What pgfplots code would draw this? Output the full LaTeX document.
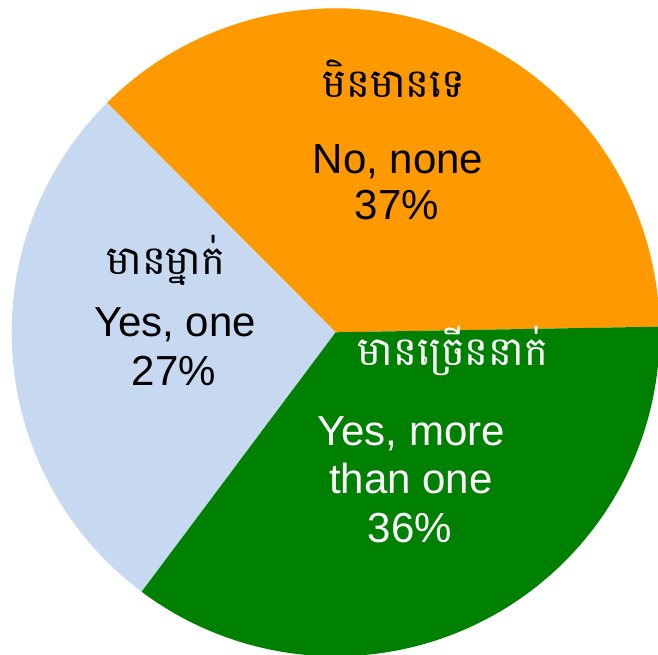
\documentclass[border=0pt]{standalone}
\usepackage{pgfplots}
\pgfplotsset{compat=1.18}
\usepackage{pgfplotstable}
\usepackage{fontspec}
\setmainfont{Liberation Sans}
\newfontfamily\khmerfont[Script=Khmer]{Battambang}
\definecolor{pieorange}{RGB}{255,153,0}
\definecolor{pieblue}{RGB}{198,217,240}
\definecolor{piegreen}{RGB}{0,128,0}

\pgfplotstableread{
share
37.2
27.3
35.5
}\piedata
\pgfplotstablegetelem{0}{share}\of\piedata \let\sA\pgfplotsretval
\pgfplotstablegetelem{1}{share}\of\piedata \let\sB\pgfplotsretval
\pgfplotstablegetelem{2}{share}\of\piedata \let\sC\pgfplotsretval
\pgfmathsetmacro\aZero{1.0}
\pgfmathsetmacro\aOne{\aZero+3.6*\sA}
\pgfmathsetmacro\aTwo{\aOne+3.6*\sB}
\pgfmathsetmacro\aThree{\aTwo+3.6*\sC}
\def\cx{335.7}
\def\cy{321.7}
\def\rr{324}

\begin{document}
\begin{tikzpicture}
\useasboundingbox (0,0) rectangle (658pt,654pt);
\begin{axis}[hide axis, x=1pt, y=1pt, xmin=0, xmax=658, ymin=0, ymax=654, clip=true,
  axis line style={draw=none}]
\addplot[fill=pieorange, draw=none, domain=\aZero:\aOne, samples=150] ({\cx+\rr*cos(x)},{\cy+\rr*sin(x)}) -- (axis cs:\cx,\cy) -- cycle;
\addplot[fill=pieblue, draw=none, domain=\aOne:\aTwo, samples=150] ({\cx+\rr*cos(x)},{\cy+\rr*sin(x)}) -- (axis cs:\cx,\cy) -- cycle;
\addplot[fill=piegreen, draw=none, domain=\aTwo:\aThree, samples=150] ({\cx+\rr*cos(x)},{\cy+\rr*sin(x)}) -- (axis cs:\cx,\cy) -- cycle;

% orange labels
\node[anchor=base, font=\khmerfont\fontsize{40}{48}\selectfont] at (axis cs:394,556) {មិនមានទេ};
\node[anchor=base, font=\fontsize{42}{48}\selectfont] at (axis cs:398,480) {No, none};
\node[anchor=base, font=\fontsize{42}{48}\selectfont] at (axis cs:397,434) {37\%};
% blue labels
\node[anchor=base, font=\khmerfont\fontsize{40}{48}\selectfont] at (axis cs:166,379) {មានម្នាក់};
\node[anchor=base, font=\fontsize{42}{48}\selectfont] at (axis cs:175,317) {Yes, one};
\node[anchor=base, font=\fontsize{42}{48}\selectfont] at (axis cs:174,269) {27\%};
% green labels
\node[anchor=base, text=white, font=\khmerfont\fontsize{40}{48}\selectfont] at (axis cs:453,289) {មានច្រើននាក់};
\node[anchor=base, text=white, font=\fontsize{42}{48}\selectfont] at (axis cs:411,209) {Yes, more};
\node[anchor=base, text=white, font=\fontsize{42}{48}\selectfont] at (axis cs:411,161) {than one};
\node[anchor=base, text=white, font=\fontsize{42}{48}\selectfont] at (axis cs:410,112) {36\%};
\end{axis}
\end{tikzpicture}
\end{document}
